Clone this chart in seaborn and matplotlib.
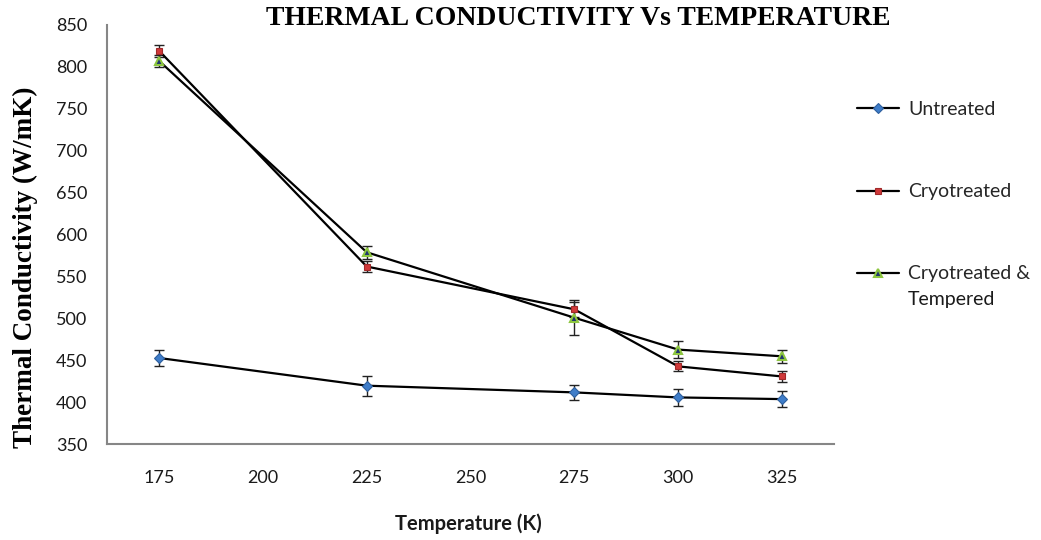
import matplotlib
matplotlib.use("Agg")
import matplotlib.pyplot as plt
import seaborn as sns
import pandas as pd
from matplotlib.lines import Line2D

temperature = [175, 225, 275, 300, 325]
untreated = [453, 420, 412, 406, 404]
untreated_err = [10, 12, 9, 10, 10]
cryotreated = [819, 562, 511, 443, 431]
cryotreated_err = [7, 7, 9, 6, 7]
cryo_tempered = [807, 579, 501, 463, 455]
cryo_tempered_err = [7, 8, 21, 10, 8]
series_names = ["Untreated", "Cryotreated", "Cryotreated & Tempered"]
legend_first_lines = ["Untreated", "Cryotreated", "Cryotreated &"]
legend_second_line = "Tempered"
x_ticks = [175, 200, 225, 250, 275, 300, 325]
y_ticks = [350, 400, 450, 500, 550, 600, 650, 700, 750, 800, 850]

sns.set_style("white")
plt.rcParams["font.family"] = ["Lato", "DejaVu Sans"]

rows = []
for name, vals, errs in zip(series_names,
                            [untreated, cryotreated, cryo_tempered],
                            [untreated_err, cryotreated_err, cryo_tempered_err]):
    for t, v, e in zip(temperature, vals, errs):
        rows.append({"Temperature": t, "k": v, "err": e, "series": name})
df = pd.DataFrame(rows)

fig = plt.figure(figsize=(10.41, 5.40), dpi=100)
ax = fig.add_axes([0.103, 0.177, 0.698, 0.777])

styles = {
    "Untreated": dict(marker="D", markersize=5.5, markerfacecolor="#3F7DC9", markeredgecolor="#2E5F9E", markeredgewidth=0.8),
    "Cryotreated": dict(marker="s", markersize=4.5, markerfacecolor="#D0393A", markeredgecolor="#A02A2A", markeredgewidth=0.8),
    "Cryotreated & Tempered": dict(marker="^", markersize=6, markerfacecolor="#1F3470", markeredgecolor="#8DC63F", markeredgewidth=1.5),
}

handles = []
for name in series_names:
    sub = df[df["series"] == name]
    ax.errorbar(sub["Temperature"], sub["k"], yerr=sub["err"], fmt="none",
                ecolor="#222222", elinewidth=1.0, capsize=3.5, capthick=1.0, zorder=2)
    sns.lineplot(data=sub, x="Temperature", y="k", ax=ax, color="black",
                 linewidth=1.6, zorder=3, legend=False, **styles[name])
    handles.append(Line2D([0], [0], color="black", linewidth=1.6, **styles[name]))

ax.set_xlim(162.5, 337.5)
ax.set_ylim(350, 850)
ax.set_xticks(x_ticks)
ax.set_yticks(y_ticks)
ax.set_xlabel("")
ax.set_ylabel("")
for s in ["top", "right"]:
    ax.spines[s].set_visible(False)
for s in ["left", "bottom"]:
    ax.spines[s].set_color("#868686")
    ax.spines[s].set_linewidth(1.5)
ax.tick_params(axis="both", direction="inout", length=9, width=1.2, color="#868686",
               labelsize=13, labelcolor="#1a1a1a", pad=8)
ax.tick_params(axis="y", pad=10)
ax.tick_params(axis="x", pad=14)

fig.text(0.555, 0.966, "THERMAL CONDUCTIVITY Vs TEMPERATURE", ha="center", va="center",
         family="Liberation Serif", fontweight="bold", fontsize=20, color="black")
fig.text(0.024, 0.505, "Thermal Conductivity (W/mK)", ha="center", va="center",
         rotation=90, family="Liberation Serif", fontweight="bold", fontsize=19.5, color="black")
fig.text(0.45, 0.031, "Temperature (K)", ha="center", va="center",
         fontweight="bold", fontsize=14.5, color="#1a1a1a")

leg = fig.legend(handles, legend_first_lines, loc="upper left", bbox_to_anchor=(0.806, 0.845),
                 frameon=False, fontsize=14, labelspacing=3.35, handlelength=2.2,
                 handletextpad=0.45)

fig.canvas.draw()
renderer = fig.canvas.get_renderer()
bb = leg.get_texts()[2].get_window_extent(renderer)
x0, y0 = fig.transFigure.inverted().transform((bb.x0, bb.y0 - 26))
fig.text(x0, y0, legend_second_line, ha="left", va="bottom", fontsize=14, color="#1a1a1a")

fig.savefig("out.png", dpi=100, facecolor="white")
